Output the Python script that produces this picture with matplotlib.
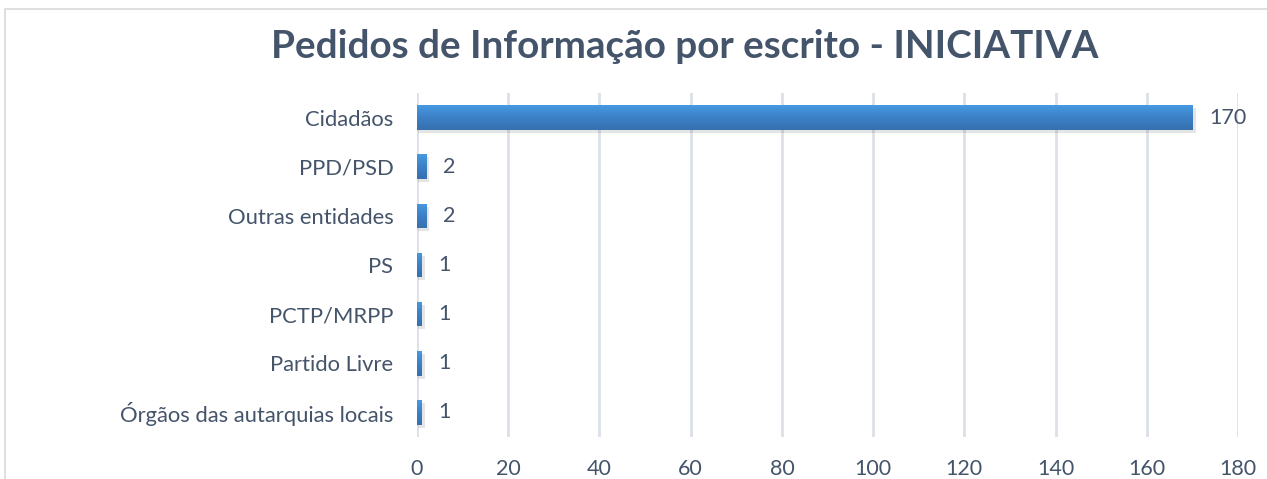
import matplotlib
matplotlib.use("Agg")
import matplotlib.pyplot as plt
import numpy as np
from matplotlib.patches import Rectangle
from matplotlib.colors import LinearSegmentedColormap

categories = ["Cidadãos", "PPD/PSD", "Outras entidades", "PS", "PCTP/MRPP",
              "Partido Livre", "Órgãos das autarquias locais"]
values = [170, 2, 2, 1, 1, 1, 1]
xticks = [0, 20, 40, 60, 80, 100, 120, 140, 160, 180]
title = "Pedidos de Informação por escrito - INICIATIVA"

W, H = 1267, 479
fig = plt.figure(figsize=(W / 100, H / 100), dpi=100)
fig.patch.set_facecolor("white")

# outer chart border
fig.add_artist(Rectangle((5 / W, -0.1), 1.2, (H - 9) / H + 0.1, transform=fig.transFigure,
                         fill=False, edgecolor="#D9D9D9", linewidth=1.2))

ax = fig.add_axes([417 / W, (H - 437) / H, (1238 - 417) / W, (437 - 93) / H])
n = len(categories)

text_color = "#44546A"
font = "Lato"

ax.set_xticks(xticks)
ax.set_xticklabels([str(t) for t in xticks], fontsize=15.5, color=text_color, family=font)
ax.set_yticks(range(n))
ax.set_yticklabels(categories, fontsize=15.8, color=text_color, family=font)
ax.tick_params(axis="both", length=0)
ax.tick_params(axis="x", pad=16)
ax.tick_params(axis="y", pad=17)
for s in ax.spines.values():
    s.set_visible(False)
ax.grid(axis="x", color="#DCE1E8", linewidth=2)
ax.set_axisbelow(True)

cmap = LinearSegmentedColormap.from_list("g", ["#4699E2", "#3D80C6", "#3670AF"])
grad = np.linspace(0, 1, 100).reshape(-1, 1)
bh = 0.5
for i, v in enumerate(values):
    # shadow
    ax.add_patch(Rectangle((0.3, i - bh / 2 + 0.06), v + 0.4, bh, facecolor="#000000",
                           alpha=0.10, edgecolor="none", zorder=2))
    bar = ax.barh(i, v, height=bh, color="none", zorder=3)
    im = ax.imshow(grad, cmap=cmap, aspect="auto", extent=[0, v, i + bh / 2, i - bh / 2],
                   zorder=3, interpolation="bilinear")
    im.set_clip_path(bar.patches[0])
    ax.annotate(str(v), (v, i), xytext=(12, 0), textcoords="offset points",
                va="center", ha="left", fontsize=15.5, color=text_color, family=font)
ax.set_xlim(0, 180)
ax.set_ylim(n - 0.5, -0.5)

fig.text(685 / W, 1 - 47 / H, title, ha="center", va="center", fontsize=27.8,
         fontweight="bold", color=text_color, family=font)

fig.savefig("out.png", dpi=100)
